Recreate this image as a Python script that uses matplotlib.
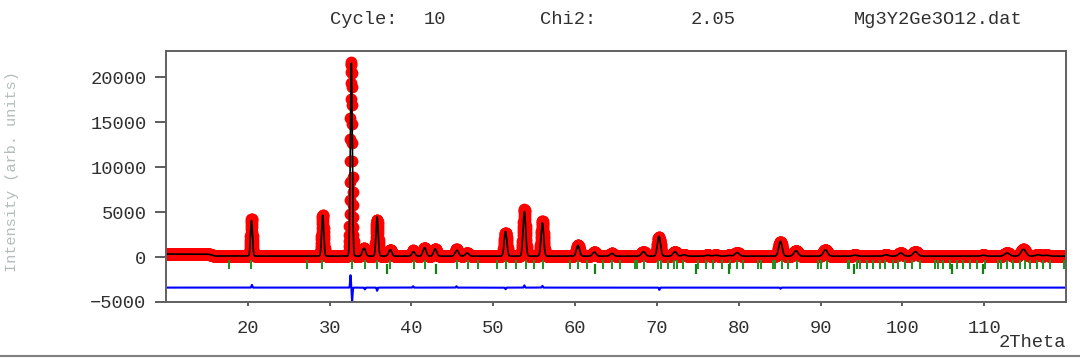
import numpy as np
import matplotlib
matplotlib.use("Agg")
import matplotlib.pyplot as plt
from matplotlib.lines import Line2D

# peak list: 2theta, height above background, fwhm
peak_pos = [20.45, 29.15, 32.65, 34.2, 35.8, 37.4, 40.25, 41.6, 42.9, 45.55,
            46.8, 51.5, 53.8, 56.0, 60.35, 62.35, 64.5, 68.35, 70.25, 72.2,
            73.3, 76.2, 77.2, 78.8, 79.8, 85.1, 87.0, 90.6, 94.2, 98.0,
            99.8, 101.6, 109.9, 112.8, 114.8, 116.6, 117.6]
peak_h = [3950, 4550, 21500, 900, 4350, 700, 500, 950, 800, 650,
          350, 2750, 4950, 3700, 1200, 450, 300, 500, 2200, 500,
          150, 100, 100, 80, 400, 1650, 600, 700, 120, 150,
          350, 500, 100, 350, 750, 150, 100]
peak_w = [0.28, 0.3, 0.28, 0.45, 0.32, 0.45, 0.45, 0.45, 0.45, 0.5,
          0.5, 0.38, 0.38, 0.38, 0.45, 0.5, 0.5, 0.55, 0.45, 0.55,
          0.55, 0.6, 0.6, 0.6, 0.6, 0.5, 0.6, 0.6, 0.6, 0.6,
          0.65, 0.65, 0.65, 0.7, 0.7, 0.7, 0.7]

# background knots
bg_x = [10, 15.2, 16.0, 40, 120]
bg_y = [330, 320, 110, 100, 100]

# residual (obs - calc) features
res_pos = [20.5, 32.55, 32.75, 34.3, 35.8, 40.2, 45.5, 51.5, 53.8, 56.0, 70.3, 85.1]
res_amp = [300, 1400, -1500, -200, -350, 150, 150, -180, 250, 200, -250, -120]
diff_offset = -3400

# Bragg reflections, main phase and second phase
bragg1 = [17.7, 20.4, 27.2, 29.1, 32.7, 34.3, 35.8, 37.4, 40.3, 41.7, 45.6,
          46.9, 48.1, 50.5, 51.6, 52.8, 54.0, 55.0, 56.1, 59.4, 60.4, 61.5,
          63.4, 64.5, 65.5, 67.3, 67.6, 68.4, 70.1, 70.5, 71.4, 72.1, 72.5,
          73.2, 75.0, 76.0, 76.9, 78.0, 78.9, 79.8, 80.5, 82.4, 82.7, 84.2,
          84.4, 85.3, 86.0, 87.1, 89.7, 90.1, 90.8, 93.3, 93.5, 94.4, 94.8,
          95.7, 96.4, 97.3, 97.9, 98.8, 99.5, 100.3, 101.2, 102.2, 104.0,
          104.3, 105.0, 105.8, 106.7, 107.4, 108.3, 109.1, 110.1, 111.7,
          112.0, 112.8, 113.5, 114.4, 115.0, 115.6, 116.5, 117.2, 118.1, 119.8]
bragg2 = [37.0, 43.0, 62.4, 74.8, 78.8, 94.1, 106.1, 109.9]

x_ticks = [20, 30, 40, 50, 60, 70, 80, 90, 100, 110]
y_ticks = [-5000, 0, 5000, 10000, 15000, 20000]
y_labels = ["\u22125000", "0", "5000", "10000", "15000", "20000"]

tth = np.arange(10, 120.001, 0.02)
bg = np.interp(tth, bg_x, bg_y)
calc = bg.copy()
for p, h, w in zip(peak_pos, peak_h, peak_w):
    s = w / 2.3548
    calc += h * np.exp(-0.5 * ((tth - p) / s) ** 2)
res = np.zeros_like(tth)
for p, a in zip(res_pos, res_amp):
    res += a * np.exp(-0.5 * ((tth - p) / 0.05) ** 2)
obs = calc + res

mono = "Liberation Mono"
txt = "#303030"
fs = 13.5

fig = plt.figure(figsize=(10.8, 3.59), dpi=100)
ax = fig.add_axes([166 / 1080, 1 - 302 / 359, 900 / 1080, 251 / 359])

ax.plot(tth, obs, "o", color="#ff0000", markersize=8.5, markeredgewidth=0, zorder=1)
ax.plot(tth, calc, color="black", linewidth=1.2, zorder=2)
ax.plot(tth, diff_offset + res, color="#0000ff", linewidth=1.5, zorder=2)
ax.vlines(bragg1, -1330, -330, color="#209020", linewidth=1.4, zorder=3)
ax.vlines(bragg2, -1900, -800, color="#108010", linewidth=1.6, zorder=3)

ax.set_xlim(10, 120)
ax.set_ylim(-5000, 22900)
ax.set_xticks(x_ticks)
ax.set_xticklabels([str(v) for v in x_ticks], fontfamily=mono, fontsize=fs, color=txt)
ax.set_yticks(y_ticks)
ax.set_yticklabels(y_labels, fontfamily=mono, fontsize=fs, color=txt)
ax.tick_params(axis="y", direction="out", length=8, width=1.3, pad=6, color="#505050")
ax.tick_params(axis="x", direction="out", length=3, width=1.3, pad=10, color="#505050")
for sp in ax.spines.values():
    sp.set_color("#606060")
    sp.set_linewidth(1.4)

ax.text(1.0, -0.16, "2Theta", transform=ax.transAxes, ha="right", va="center",
        fontfamily=mono, fontsize=fs, color=txt)
fig.text(12 / 1080, 1 - 172 / 359, "Intensity (arb. units)", rotation=90,
         ha="center", va="center", fontfamily=mono, fontsize=11, color="#b4bcbc")

ty = 1 - 20 / 359
for cx, s in [(364, "Cycle:"), (435, "10"), (568, "Chi2:"), (713, "2.05"),
              (938, "Mg3Y2Ge3O12.dat")]:
    fig.text(cx / 1080, ty, s, ha="center", va="center", fontfamily=mono,
             fontsize=fs, color=txt)

fig.add_artist(Line2D([0, 1], [1 - 356 / 359] * 2, color="#808080", linewidth=1.5))

fig.savefig("out.png", dpi=100)
